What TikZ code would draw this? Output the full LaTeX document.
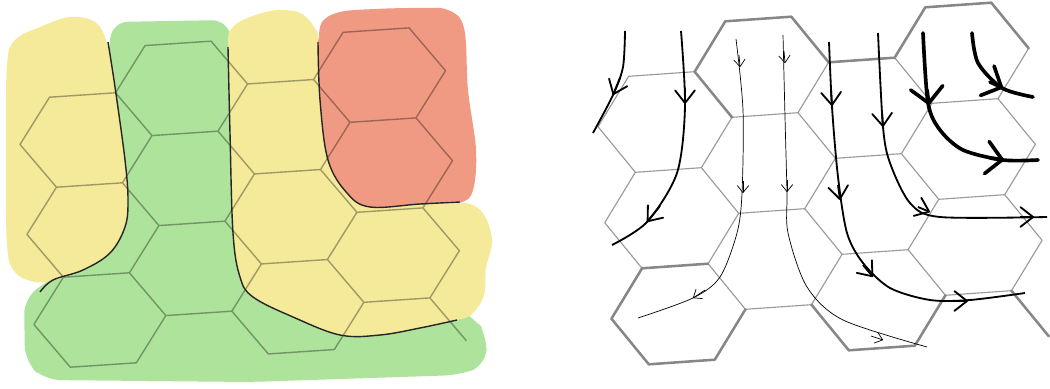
\documentclass[tikz,border=0pt]{standalone}
\usetikzlibrary{arrows.meta}
\definecolor{patchyellow}{HTML}{F5E99A}
\definecolor{patchgreen}{HTML}{ADE39A}
\definecolor{patchred}{HTML}{F19A83}
\tikzset{
  thinbarb/.tip={Straight Barb[length=5pt,width=8pt,round]},
  midbarb/.tip={Straight Barb[length=9pt,width=14pt,round]},
  boldbarb/.tip={Straight Barb[length=11pt,width=23pt,round]}
}
\begin{document}
\begin{tikzpicture}[x=0.025cm, y=-0.025cm,
    cellline/.style={draw=black, opacity=0.34, line width=1pt, line join=round},
    border/.style={draw=black!85, line width=1pt},
    meshline/.style={draw=black!40, line width=0.8pt, line join=round},
    meshbold/.style={draw=black!47, line width=1.8pt, line join=round, line cap=round},
    flowthin/.style={line width=0.5pt},
    flowmid/.style={line width=1.3pt},
    flowbold/.style={line width=2.6pt, line cap=round}]
  \useasboundingbox (0,0) rectangle (1050,388);

  % left: coloured regions
  \fill[patchgreen, rounded corners=0.4cm] (112,22) -- (228,20) -- (238,80) -- (240,270)
    -- (300,300) -- (440,300) -- (475,318) -- (487,335) -- (486,365) -- (460,375)
    -- (250,382) -- (45,380) -- (25,362) -- (24,298) -- (55,276) -- (98,248)
    -- (104,190) -- (108,60) -- cycle;
  \fill[patchred] plot[smooth cycle, tension=0.6] coordinates {(318,42) (322,22) (340,12)
    (375,9) (420,8) (448,10) (464,28) (468,90) (476,150) (473,190) (460,203) (420,212)
    (370,214) (340,200) (315,160) (310,100) (312,55)};
  \fill[patchyellow] plot[smooth cycle, tension=0.6] coordinates {(107,43) (115,87) (125,160)
    (128,200) (125,227) (110,253) (83,270) (55,280) (35,282) (15,272) (7,245) (6,150)
    (7,65) (15,40) (40,27) (70,17) (95,22)};
  \fill[patchyellow] plot[smooth cycle, tension=0.6] coordinates {(228,47) (232,28) (250,17)
    (278,10) (302,14) (316,30) (318,42) (320,100) (328,160) (347,193) (370,207) (420,204)
    (460,202) (482,212) (492,240) (486,268) (484,295) (472,314) (457,320) (420,328)
    (380,335) (340,335) (293,317) (253,297) (240,277) (233,233) (230,133)};

  \begin{scope}[shift={(86,140)}, cm={1,0.067,-0.077,1,(0,0)}]
    \draw[cellline] \foreach \cx/\cy in {0/0,0/90,0/180,99/-45,99/45,99/135,198/0,198/90,
        198/180,297/-45,297/45,297/135}
      { ({\cx-66},\cy) -- ({\cx-33},{\cy-45}) -- ({\cx+33},{\cy-45}) -- ({\cx+66},\cy)
        -- ({\cx+33},{\cy+45}) -- ({\cx-33},{\cy+45}) -- cycle }
      (330,180) -- (363,225);
  \end{scope}

  \draw[border] plot[smooth, tension=0.6] coordinates {(108,42) (115,87) (125,160) (128,200)
    (125,227) (110,253) (83,270) (53,280) (40,292)};
  \draw[border] plot[smooth, tension=0.6] coordinates {(228,47) (230,133) (233,233) (240,277)
    (253,297) (293,317) (340,335) (380,335) (420,328) (457,320)};
  \draw[border] plot[smooth, tension=0.6] coordinates {(318,42) (320,100) (328,160) (347,193)
    (370,207) (420,204) (460,202)};

  % right: cells and flow
  \begin{scope}[shift={(665,122)}, cm={1,0.07,-0.07,1,(0,0)}]
    \draw[meshline] \foreach \cx/\cy in {0/0,0/96,0/192,100/-48,100/48,100/144,200/0,200/96,
        200/192,300/-48,300/48,300/144}
      { ({\cx-67},\cy) -- ({\cx-33},{\cy-48}) -- ({\cx+33},{\cy-48}) -- ({\cx+67},\cy)
        -- ({\cx+33},{\cy+48}) -- ({\cx-33},{\cy+48}) -- cycle };
    \draw[meshbold] (33,-48) -- (67,-96) -- (133,-96) -- (167,-48) (33,-48) -- (67,0)
      (33,144) -- (-33,144) -- (-67,192) -- (-33,240) -- (33,240) -- (67,192)
      (133,192) -- (167,240) -- (233,240) -- (267,192)
      (233,-48) -- (267,-96) -- (333,-96) -- (367,-48)
      (167,-48) -- (233,-48) (333,192) -- (367,240);
  \end{scope}

  \draw[flowmid] plot[smooth] coordinates {(625,31) (623,67) (613,95) (593,133)};
  \draw[flowmid] plot[smooth] coordinates {(681,31) (685,107) (677,173) (647,222) (612,245)};
  \draw[flowthin] plot[smooth] coordinates {(736,39) (743,110) (742,193) (737,233) (720,277)
    (693,298) (638,318)};
  \draw[flowthin] plot[smooth] coordinates {(783,35) (785,117) (787,192) (788,233) (807,287)
    (843,320) (927,347)};
  \draw[flowmid] plot[smooth] coordinates {(829,42) (832,107) (838,177) (847,233) (863,263)
    (890,288) (930,300) (970,300) (1025,293)};
  \draw[flowmid] plot[smooth] coordinates {(878,33) (883,127) (890,163) (910,203) (940,217)
    (1047,217)};
  \draw[flowbold] plot[smooth] coordinates {(923,33) (928,103) (940,130) (963,150) (1003,160)
    (1038,160)};
  \draw[flowbold] plot[smooth] coordinates {(972,33) (978,63) (1002,88) (1033,97)};

  \foreach \p/\q in {{739,55}/{740,67}, {743,181}/{743,193}, {705,290}/{693,298},
      {784,51}/{785,63}, {787,180}/{787,192}, {871,336}/{883,340}}
    \draw[flowthin, -{thinbarb}] (\p) -- (\q);
  \foreach \p/\q in {{620,78}/{613,95}, {685,88}/{685,104}, {660,206}/{647,222},
      {831,90}/{832,106}, {838,185}/{840,200}, {863,265}/{873,277}, {955,301}/{968,301},
      {882,112}/{883,127}, {918,207}/{930,212}, {1020,217}/{1034,217}}
    \draw[flowmid, -{midbarb}] (\p) -- (\q);
  \foreach \p/\q in {{927,90}/{929,105}, {990,158}/{1004,160}, {990,82}/{1003,88}}
    \draw[flowbold, -{boldbarb}] (\p) -- (\q);
\end{tikzpicture}
\end{document}
